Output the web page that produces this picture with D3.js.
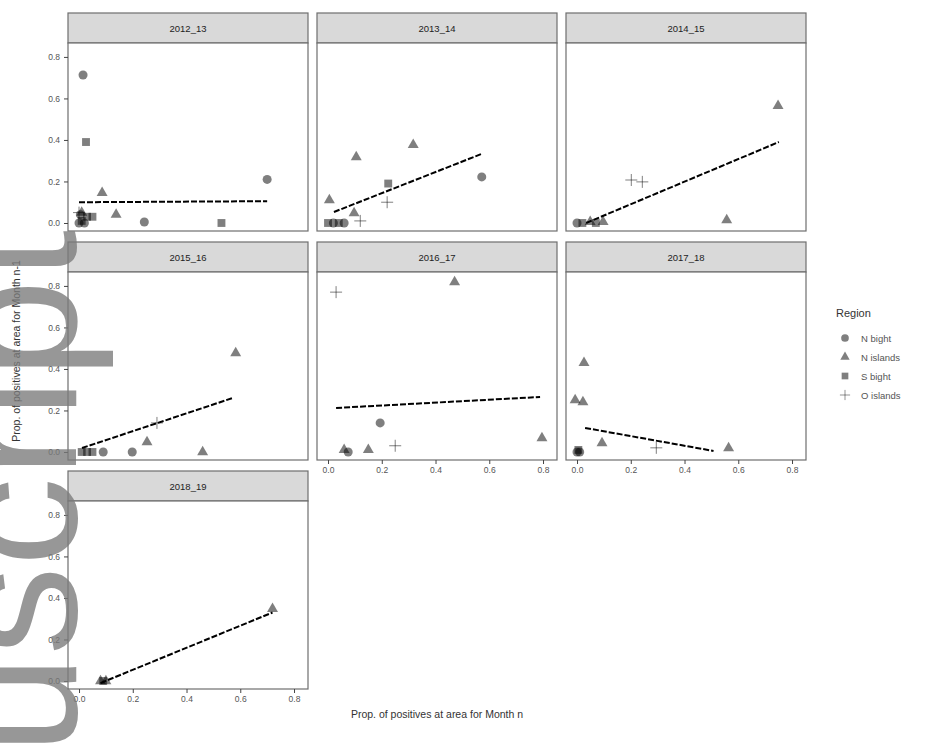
<!DOCTYPE html>
<html>
<head>
<meta charset="utf-8">
<script src="https://cdn.jsdelivr.net/npm/d3@7"></script>
<style>
  html, body { margin: 0; padding: 0; background: #fff; }
  svg { display: block; font-family: "Liberation Sans", Arial, sans-serif; }
</style>
</head>
<body>
<svg id="chart" width="931" height="750"></svg>
<script>
// ---------------- DATA ----------------
const seasons = ["2012_13", "2013_14", "2014_15", "2015_16", "2016_17", "2017_18", "2018_19"];
const regions = ["N bight", "N islands", "S bight", "O islands"];
const xTicks = [0.0, 0.2, 0.4, 0.6, 0.8];
const yTicks = [0.0, 0.2, 0.4, 0.6, 0.8];

// points: [prop month n, prop month n-1, region]
const pts2012_13 = [
  [0.015, 0.713, "N bight"], [0.026, 0.39, "S bight"], [0.086, 0.145, "N islands"],
  [0.138, 0.04, "N islands"], [0.243, 0.005, "N bight"], [0.53, 0.0, "S bight"],
  [0.70, 0.21, "N bight"], [0.0, 0.0, "N bight"], [0.01, 0.01, "S bight"],
  [0.02, 0.0, "N bight"], [0.03, 0.03, "S bight"], [0.05, 0.03, "S bight"],
  [0.005, 0.04, "N bight"], [0.01, 0.05, "N islands"], [0.0, 0.05, "O islands"]
];
const pts2013_14 = [
  [0.105, 0.318, "N islands"], [0.317, 0.376, "N islands"], [0.572, 0.222, "N bight"],
  [0.005, 0.11, "N islands"], [0.224, 0.19, "S bight"], [0.22, 0.10, "O islands"],
  [0.097, 0.048, "N islands"], [0.12, 0.01, "O islands"], [0.0, 0.0, "S bight"],
  [0.02, 0.0, "N bight"], [0.04, 0.0, "S bight"], [0.06, 0.0, "N bight"]
];
const pts2014_15 = [
  [0.748, 0.564, "N islands"], [0.557, 0.014, "N islands"], [0.202, 0.207, "O islands"],
  [0.243, 0.198, "O islands"], [0.049, 0.005, "N islands"], [0.097, 0.005, "N islands"],
  [0.02, 0.0, "S bight"], [0.07, 0.0, "S bight"], [0.0, 0.0, "N bight"]
];
const pts2015_16 = [
  [0.583, 0.477, "N islands"], [0.29, 0.14, "O islands"], [0.253, 0.048, "N islands"],
  [0.46, 0.0, "N islands"], [0.198, 0.0, "N bight"], [0.09, 0.0, "N bight"],
  [0.01, 0.0, "S bight"], [0.03, 0.0, "S bight"], [0.05, 0.0, "S bight"]
];
const pts2016_17 = [
  [0.03, 0.77, "O islands"], [0.471, 0.819, "N islands"], [0.194, 0.14, "N bight"],
  [0.25, 0.03, "O islands"], [0.06, 0.01, "N islands"], [0.075, 0.0, "N bight"],
  [0.15, 0.01, "N islands"], [0.796, 0.067, "N islands"]
];
const pts2017_18 = [
  [0.026, 0.43, "N islands"], [-0.007, 0.25, "N islands"], [0.022, 0.24, "N islands"],
  [0.093, 0.043, "N islands"], [0.564, 0.019, "N islands"], [0.295, 0.02, "O islands"],
  [0.0, 0.0, "N bight"], [0.01, 0.0, "N bight"], [0.005, 0.01, "S bight"]
];
const pts2018_19 = [
  [0.72, 0.347, "N islands"], [0.08, 0.0, "N islands"], [0.1, 0.0, "N islands"],
  [0.09, 0.0, "S bight"]
];
const pointsBySeason = [pts2012_13, pts2013_14, pts2014_15, pts2015_16, pts2016_17, pts2017_18, pts2018_19];

// linear fit segments: [x1, y1, x2, y2]
const fitLines = [
  [0.0, 0.10, 0.70, 0.105],
  [0.022, 0.053, 0.572, 0.333],
  [0.034, 0.0, 0.751, 0.39],
  [0.011, 0.019, 0.572, 0.26],
  [0.03, 0.212, 0.789, 0.265],
  [0.03, 0.116, 0.508, 0.005],
  [0.08, -0.01, 0.72, 0.33]
];

const xTitle = "Prop. of positives at area for Month n";
const yTitle = "Prop. of positives at area for Month n-1";
const legendTitle = "Region";
const watermark = "Author Manuscript";

// ---------------- LAYOUT ----------------
const svg = d3.select("#chart");
const colX = [68, 317, 566];
const rowY = [13, 242, 471];
const panelW = 240, stripH = 30, plotH = 188;

const x = d3.scaleLinear().domain([-0.041, 0.852]).range([0, panelW]);
const y = d3.scaleLinear().domain([-0.0386, 0.867]).range([plotH, 0]);

const shapeOf = {
  "N bight": d3.symbol().type(d3.symbolCircle).size(64)(),
  "N islands": d3.symbol().type(d3.symbolTriangle).size(52)(),
  "S bight": d3.symbol().type(d3.symbolSquare).size(62)(),
  "O islands": "M-6,0H6M0,-6V6"
};
function drawPoint(g, r) {
  const p = g.append("path").attr("d", shapeOf[r]);
  if (r === "O islands") p.attr("fill", "none").attr("stroke", "#000").attr("stroke-opacity", 0.5).attr("stroke-width", 1);
  else p.attr("fill", "#000").attr("fill-opacity", 0.5);
  return p;
}

const tickColor = "#444", labelColor = "#555";

seasons.forEach((s, i) => {
  const col = i % 3, row = Math.floor(i / 3);
  const gx = colX[col], gy = rowY[row];
  const g = svg.append("g").attr("transform", `translate(${gx},${gy})`);

  // strip
  g.append("rect").attr("x", 0).attr("y", 0).attr("width", panelW).attr("height", stripH)
    .attr("fill", "#d9d9d9").attr("stroke", "#6e6e6e").attr("stroke-width", 1.2);
  g.append("text").attr("x", panelW / 2).attr("y", stripH / 2 + 3.5).attr("text-anchor", "middle")
    .attr("font-size", 9.5).attr("fill", "#222").text(s);

  const p = g.append("g").attr("transform", `translate(0,${stripH})`);
  p.append("rect").attr("width", panelW).attr("height", plotH).attr("fill", "#fff");

  // points
  pointsBySeason[i].forEach(d => {
    drawPoint(p, d[2]).attr("transform", `translate(${x(d[0])},${y(d[1])})`);
  });

  // fit line
  const f = fitLines[i];
  p.append("line").attr("x1", x(f[0])).attr("y1", y(f[1])).attr("x2", x(f[2])).attr("y2", y(f[3]))
    .attr("stroke", "#000").attr("stroke-width", 2).attr("stroke-dasharray", "6,2");

  p.append("rect").attr("width", panelW).attr("height", plotH).attr("fill", "none")
    .attr("stroke", "#6e6e6e").attr("stroke-width", 1.2);

  // y axis on first column
  if (col === 0) {
    const ya = p.append("g").call(d3.axisLeft(y).tickValues(yTicks).tickSize(4).tickPadding(4).tickFormat(d3.format(".1f")));
    ya.select(".domain").remove();
    ya.selectAll("line").attr("stroke", tickColor);
    ya.selectAll("text").attr("font-size", 8.5).attr("fill", labelColor).attr("font-family", "Liberation Sans, Arial, sans-serif");
  }
  // x axis on bottom-most panel of each column
  const isBottom = (i + 3 >= seasons.length);
  if (isBottom) {
    const xa = p.append("g").attr("transform", `translate(0,${plotH})`)
      .call(d3.axisBottom(x).tickValues(xTicks).tickSize(4).tickPadding(3).tickFormat(d3.format(".1f")));
    xa.select(".domain").remove();
    xa.selectAll("line").attr("stroke", tickColor);
    xa.selectAll("text").attr("font-size", 8.5).attr("fill", labelColor).attr("font-family", "Liberation Sans, Arial, sans-serif");
  }
});

// axis titles
svg.append("text").attr("x", 437).attr("y", 718).attr("text-anchor", "middle")
  .attr("font-size", 10.5).attr("fill", "#333").text(xTitle);
svg.append("text").attr("transform", "translate(20,351) rotate(-90)").attr("text-anchor", "middle")
  .attr("font-size", 10.5).attr("fill", "#333").text(yTitle);

// legend
const lg = svg.append("g").attr("transform", "translate(836,0)");
lg.append("text").attr("x", 0).attr("y", 317).attr("font-size", 11).attr("fill", "#333").text(legendTitle);
regions.forEach((r, k) => {
  const cy = 338 + k * 19;
  drawPoint(lg, r).attr("transform", `translate(9,${cy}) scale(0.85)`);
  lg.append("text").attr("x", 25).attr("y", cy + 3.5).attr("font-size", 9.5).attr("fill", "#555").text(r);
});

// watermark (clipped by the page edge, as in the reference)
svg.append("text").attr("transform", "translate(76,230) rotate(-90)").attr("text-anchor", "end")
  .attr("font-size", 178).attr("fill", "#7a7a7a").attr("fill-opacity", 0.78).text(watermark);
</script>
</body>
</html>
